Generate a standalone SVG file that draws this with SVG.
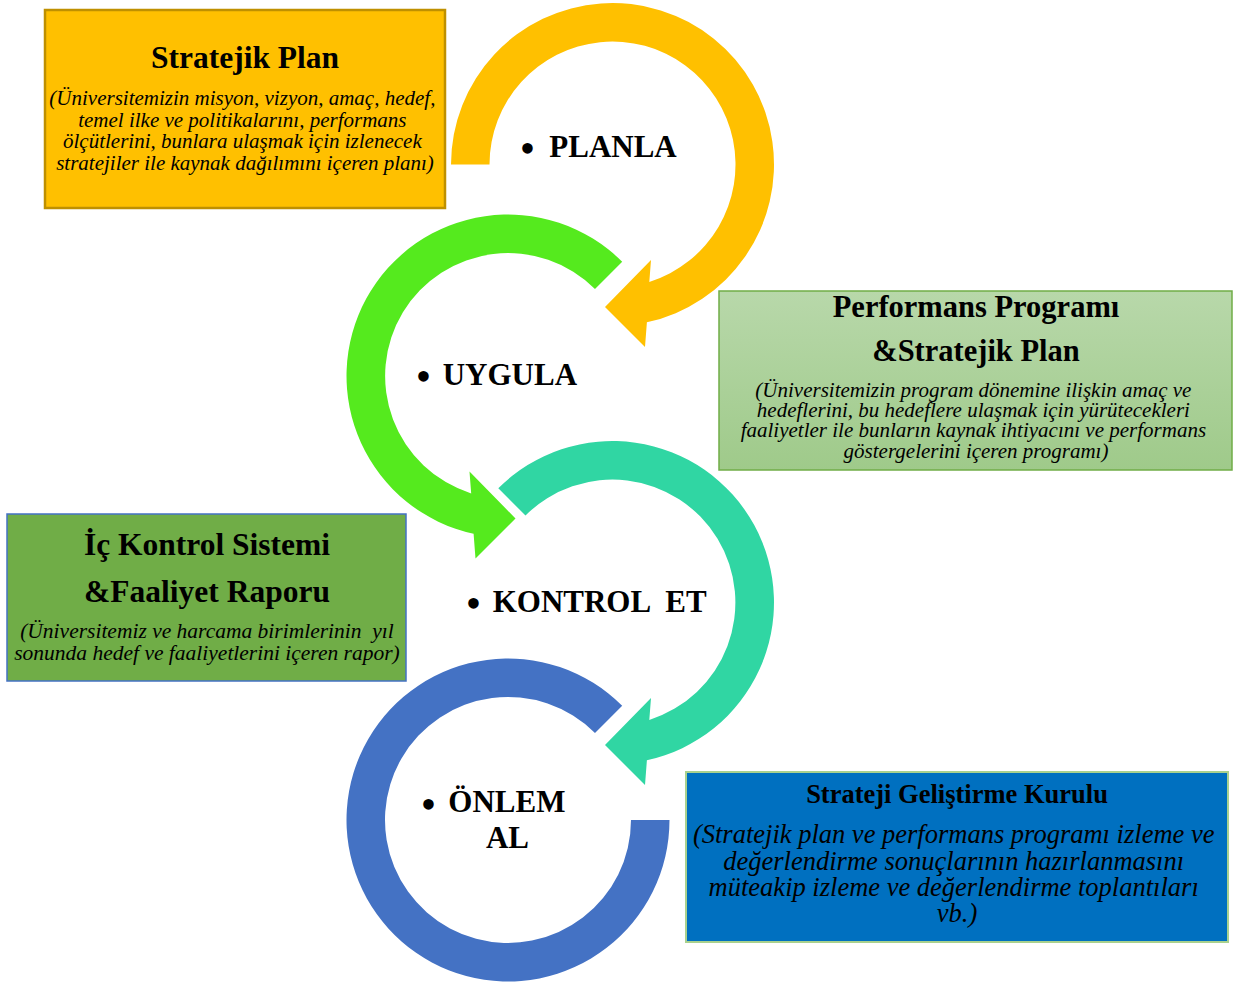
<svg xmlns="http://www.w3.org/2000/svg" width="1235" height="988" viewBox="0 0 1235 988">
<style>
.title{font-family:"Liberation Serif","Times New Roman",serif;font-weight:bold;fill:#000;text-anchor:middle}
.sub{font-family:"Liberation Serif","Times New Roman",serif;font-style:italic;fill:#000;text-anchor:middle}
.lbl{font-family:"Liberation Serif","Times New Roman",serif;font-weight:bold;font-size:31px;fill:#000}
.bul{font-family:"Liberation Serif","Times New Roman",serif;font-size:44px;fill:#000;text-anchor:middle}
</style>
<defs>
<linearGradient id="g2" x1="0" y1="0" x2="0" y2="1">
<stop offset="0" stop-color="#B8D8AA"/>
<stop offset="1" stop-color="#9FCA8A"/>
</linearGradient>
</defs>
<rect width="1235" height="988" fill="#fff"/>
<g id="connectors">
<path id="arc-planla" fill="#FFC000" d="M 451 164.5 A 161.5 161.5 0 1 1 646.9 322.3 L 645 347 L 605 307 L 651 260 L 649.3 281.9 A 123 123 0 1 0 489.5 164.5 Z"/>
<path id="arc-uygula" fill="#55EA1E" d="M 622.2 261.8 A 161.5 161.5 0 1 0 473.6 533.8 L 475.5 558.5 L 515.5 518.5 L 469.5 471.5 L 471.2 493.4 A 123 123 0 1 1 595 289 Z"/>
<path id="arc-kontrol" fill="#30D6A3" d="M 498.3 488.3 A 161.5 161.5 0 1 1 646.9 760.3 L 645 785 L 605 745 L 651 698 L 649.3 719.9 A 123 123 0 1 0 525.5 515.5 Z"/>
<path id="arc-onlem" fill="#4472C4" d="M 622.2 705.8 A 161.5 161.5 0 1 0 669.5 820 L 631 820 A 123 123 0 1 1 595 733 Z"/>
</g>
<g id="planla">
<text class="bul" x="527.5" y="163">•</text>
<text class="lbl" x="549.3" y="156.7">PLANLA</text>
</g>
<g id="uygula">
<text class="bul" x="423.5" y="391">•</text>
<text class="lbl" x="442.7" y="385">UYGULA</text>
</g>
<g id="kontrol-et">
<text class="bul" x="473.5" y="618">•</text>
<text class="lbl" x="492.7" y="611.7">KONTROL<tspan dx="8"> ET</tspan></text>
</g>
<g id="onlem-al">
<text class="bul" x="428.5" y="818.5">•</text>
<text class="lbl" x="448.3" y="812.3">ÖNLEM</text>
<text class="lbl" x="507.5" y="848.3" text-anchor="middle">AL</text>
</g>
<g id="box-stratejik-plan">
<rect x="45" y="10" width="400" height="198" fill="#FFC000" stroke="#BF9000" stroke-width="2.5"/>
<text class="title" x="245" y="68.3" font-size="31.5">Stratejik Plan</text>
<text class="sub" font-size="21">
<tspan x="245" y="105">(Üniversitemizin misyon, vizyon, amaç, hedef,</tspan>
<tspan x="245" y="126.5">temel ilke ve politikalarını, performans</tspan>
<tspan x="245" y="148">ölçütlerini, bunlara ulaşmak için izlenecek</tspan>
<tspan x="245" y="170">stratejiler ile kaynak dağılımını içeren planı)</tspan>
</text>
</g>
<g id="box-performans">
<rect x="719" y="291" width="513" height="179" fill="url(#g2)" stroke="#70AD47" stroke-width="1.5"/>
<text class="title" x="976" y="316.7" font-size="30.5">Performans Programı</text>
<text class="title" x="976" y="361" font-size="30.5">&amp;Stratejik Plan</text>
<text class="sub" font-size="21">
<tspan x="976" y="396.7">(Üniversitemizin program dönemine ilişkin amaç ve</tspan>
<tspan x="976" y="417">hedeflerini, bu hedeflere ulaşmak için yürütecekleri</tspan>
<tspan x="976" y="437.3">faaliyetler ile bunların kaynak ihtiyacını ve performans</tspan>
<tspan x="976" y="457.7">göstergelerini içeren programı)</tspan>
</text>
</g>
<g id="box-ic-kontrol">
<rect x="7" y="514" width="399" height="167" fill="#70AD47" stroke="#4472C4" stroke-width="1.5"/>
<text class="title" x="207" y="555" font-size="31.5">İç Kontrol Sistemi</text>
<text class="title" x="207" y="601.7" font-size="31.5">&amp;Faaliyet Raporu</text>
<text class="sub" font-size="21.5" xml:space="preserve"><tspan x="207" y="638.3">(Üniversitemiz ve harcama birimlerinin  yıl</tspan><tspan x="207" y="660">sonunda hedef ve faaliyetlerini içeren rapor)</tspan></text>
</g>
<g id="box-sgk">
<rect x="686" y="772" width="542" height="170" fill="#0070C0" stroke="#A9D18E" stroke-width="2"/>
<text class="title" x="957" y="803.3" font-size="26.5">Strateji Geliştirme Kurulu</text>
<text class="sub" font-size="26.5">
<tspan x="957" y="843.3">(Stratejik plan ve performans programı izleme ve</tspan>
<tspan x="957" y="869.5">değerlendirme sonuçlarının hazırlanmasını</tspan>
<tspan x="957" y="895.7">müteakip izleme ve değerlendirme toplantıları</tspan>
<tspan x="957" y="921.7">vb.)</tspan>
</text>
</g>
</svg>
